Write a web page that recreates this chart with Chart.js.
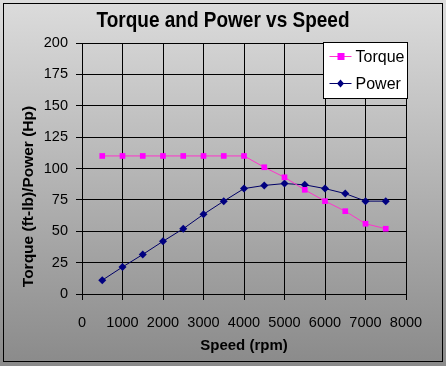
<!DOCTYPE html>
<html>
<head>
<meta charset="utf-8">
<script src="https://cdn.jsdelivr.net/npm/chart.js@4.4.0/dist/chart.umd.min.js"></script>
<style>
  html, body { margin: 0; padding: 0; background: #ccc; }
  #wrap { width: 446px; height: 366px; }
</style>
</head>
<body>
<div id="wrap"><canvas id="chart" width="446" height="366"></canvas></div>
<script>
var speeds = [500, 1000, 1500, 2000, 2500, 3000, 3500, 4000, 4500, 5000, 5500, 6000, 6500, 7000, 7500];
var torque = [110, 110, 110, 110, 110, 110, 110, 110, 101, 93, 83, 74, 66, 56, 52];
var power = [11, 21.5, 31.5, 42, 52, 63.5, 74, 84, 86.5, 88, 87, 84, 80, 74, 74];
var seriesNames = ["Torque", "Power"];
var chartTitle = "Torque and Power vs Speed";

function pts(vals) {
  return speeds.map(function (s, i) { return { x: s, y: vals[i] }; });
}

var font = "'Liberation Sans', Arial, sans-serif";

// gradient backdrop, outer frame and the title
var background = {
  id: 'background',
  beforeDraw: function (chart) {
    var c = chart.ctx;
    var g = c.createLinearGradient(0, 0, 0, chart.height);
    g.addColorStop(0, '#dcdcdc');
    g.addColorStop(1, '#8a8a8a');
    c.save();
    c.fillStyle = g;
    c.fillRect(0, 0, chart.width, chart.height);
    c.strokeStyle = '#000';
    c.lineWidth = 1;
    c.strokeRect(3.5, 3.5, chart.width - 7, chart.height - 8);

    c.font = 'bold 22px ' + font;
    var w = c.measureText(chartTitle).width;
    c.translate(223, 21);
    c.scale(253 / w, 1);
    c.fillStyle = '#000';
    c.textAlign = 'center';
    c.textBaseline = 'middle';
    c.fillText(chartTitle, 0, 0);
    c.restore();
  }
};

var boxLegend = {
  id: 'boxLegend',
  afterDraw: function (chart) {
    var c = chart.ctx;
    var x = 323.5, y = 42.5, w = 84, h = 56;
    c.save();
    c.fillStyle = '#fff';
    c.fillRect(x, y, w, h);
    c.strokeStyle = '#000';
    c.lineWidth = 1;
    c.strokeRect(x, y, w, h);
    chart.data.datasets.forEach(function (ds, i) {
      var cy = y + 14 + i * 27;
      c.strokeStyle = ds.borderColor;
      c.beginPath();
      c.moveTo(x + 6, cy);
      c.lineTo(x + 28, cy);
      c.stroke();
      c.fillStyle = ds.backgroundColor;
      if (ds.pointStyle === 'rect') {
        c.fillRect(x + 14, cy - 3.5, 7, 7);
      } else {
        c.beginPath();
        c.moveTo(x + 17, cy - 4);
        c.lineTo(x + 20.5, cy);
        c.lineTo(x + 17, cy + 4);
        c.lineTo(x + 13.5, cy);
        c.closePath();
        c.fill();
      }
      c.fillStyle = '#000';
      c.font = '16px ' + font;
      c.textBaseline = 'middle';
      c.fillText(ds.label, x + 32, cy + 1);
    });
    c.restore();
  }
};

new Chart(document.getElementById('chart').getContext('2d'), {
  type: 'scatter',
  data: {
    datasets: [
      {
        label: seriesNames[0],
        data: pts(torque),
        showLine: true,
        borderColor: '#ff33cc',
        backgroundColor: '#ff00ff',
        borderWidth: 1,
        pointStyle: 'rect',
        pointRadius: 4,
        pointBorderWidth: 0
      },
      {
        label: seriesNames[1],
        data: pts(power),
        showLine: true,
        borderColor: '#000066',
        backgroundColor: '#000080',
        borderWidth: 1,
        pointStyle: 'rectRot',
        pointRadius: 4,
        pointBorderWidth: 0
      }
    ]
  },
  options: {
    responsive: false,
    animation: false,
    layout: { padding: { left: 0, right: 40, top: 43, bottom: 0 } },
    plugins: {
      legend: { display: false },
      tooltip: { enabled: false }
    },
    scales: {
      x: {
        type: 'linear',
        min: 0,
        max: 8000,
        afterFit: function (s) { s.height = 72; },
        ticks: {
          stepSize: 1000, color: '#000', font: { family: font, size: 14.5 }, maxRotation: 0, padding: 14, autoSkip: false,
          callback: function (v) { return String(v); }
        },
        grid: { color: '#000', tickLength: 6, tickColor: '#000' },
        border: { color: '#000' },
        title: { display: true, text: 'Speed (rpm)', color: '#000', font: { family: font, size: 15, weight: 'bold' }, padding: { top: 0, bottom: 11 } }
      },
      y: {
        min: 0,
        max: 200,
        afterFit: function (s) { s.width = 82; },
        ticks: { stepSize: 25, color: '#000', font: { family: font, size: 14.5 }, padding: 8, autoSkip: false },
        grid: { color: '#000', tickLength: 6, tickColor: '#000' },
        border: { color: '#000' },
        title: { display: true, text: 'Torque (ft-lb)/Power (Hp)             ', color: '#000', font: { family: font, size: 15.5, weight: 'bold' }, padding: { top: 19, bottom: 0 } }
      }
    }
  },
  plugins: [background, boxLegend]
});
</script>
</body>
</html>
